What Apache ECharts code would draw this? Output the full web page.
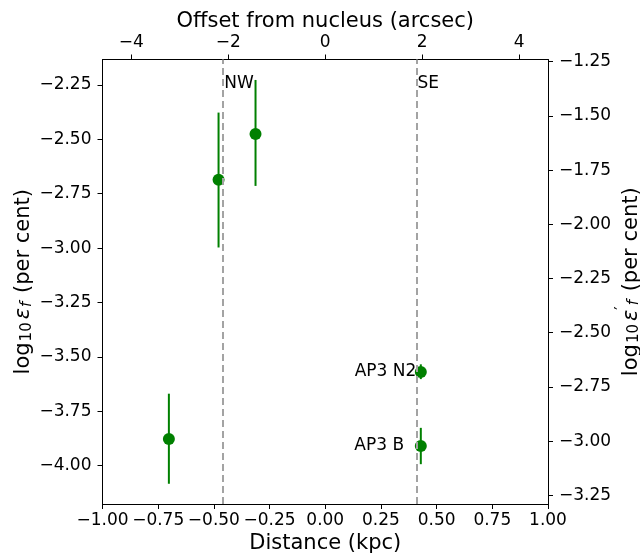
<!DOCTYPE html>
<html><head><meta charset="utf-8">
<script src="https://cdn.jsdelivr.net/npm/echarts@6/dist/echarts.min.js"></script>
<style>html,body{margin:0;background:#fff}#c{width:640px;height:554px}</style>
</head><body><div id="c"></div>
<script>
// Data
const distanceKpc = [-0.479, -0.313, -0.702, 0.429, 0.429];
const logEps      = [-2.686, -2.475, -3.877, -3.569, -3.909];
const errLower    = [-2.997, -2.714, -4.083, -3.602, -3.993];
const errUpper    = [-2.377, -2.227, -3.669, -3.534, -3.826];
const regionLineX = [-0.458, 0.410];
const regionNames = ['NW', 'SE'];
const regionLabelY = [-2.245, -2.245];
const pointNames  = ['AP3 N2', 'AP3 B'];
const pointLabelX = [0.409, 0.354];
const pointLabelY = [-3.569, -3.909];
const bottomTicks = [-1.00, -0.75, -0.50, -0.25, 0.00, 0.25, 0.50, 0.75, 1.00];
const topTicks    = [-4, -2, 0, 2, 4];
const leftTicks   = [-4.00, -3.75, -3.50, -3.25, -3.00, -2.75, -2.50, -2.25];
const rightTicks  = [-3.25, -3.00, -2.75, -2.50, -2.25, -2.00, -1.75, -1.50, -1.25];

const F = 'DejaVu Sans';
const minus = s => s.replace('-', '\u2212');
const fmt2 = v => minus(Number(v).toFixed(2));
const fmt0 = v => minus(String(Math.round(v)));
const tickFont = {fontFamily: F, fontSize: 17, color: '#000'};
const axisLine = {show: true, onZero: false, lineStyle: {color: '#000', width: 1}};
const tick = vals => ({show: true, inside: false, length: 5, lineStyle: {color: '#000', width: 1}, customValues: vals});
const nameRich = {
  n: {fontFamily: F, fontSize: 21, color: '#000', verticalAlign: 'bottom', lineHeight: 27},
  e: {fontFamily: F, fontSize: 21, color: '#000', fontStyle: 'italic', verticalAlign: 'bottom', lineHeight: 27, padding: [0, 0, 0, 2]},
  s: {fontFamily: F, fontSize: 15, color: '#000', verticalAlign: 'bottom', lineHeight: 12, padding: [0, 1, 0, 1]},
  si: {fontFamily: F, fontSize: 15, color: '#000', fontStyle: 'italic', verticalAlign: 'bottom', lineHeight: 12, padding: [0, 2, 0, 1]},
  p: {fontFamily: F, fontSize: 15, color: '#000', verticalAlign: 'top', lineHeight: 14}
};

const chart = echarts.init(document.getElementById('c'), null, {renderer: 'canvas'});
chart.setOption({
  animation: false,
  backgroundColor: '#fff',
  grid: {left: 102.5, right: 92, top: 59.5, bottom: 50, containLabel: false, outerBoundsMode: 'none'},
  xAxis: [
    {type: 'value', position: 'bottom', min: -1, max: 1,
     name: 'Distance (kpc)', nameLocation: 'middle', nameGap: 29, nameMoveOverlap: false,
     nameTextStyle: {fontFamily: F, fontSize: 21, color: '#000'},
     axisLine, axisTick: tick(bottomTicks), splitLine: {show: false},
     axisLabel: Object.assign({customValues: bottomTicks, formatter: fmt2, margin: 8}, tickFont)},
    {type: 'value', position: 'top', min: -4.595, max: 4.595,
     name: 'Offset from nucleus (arcsec)', nameLocation: 'middle', nameGap: 27, nameMoveOverlap: false,
     nameTextStyle: {fontFamily: F, fontSize: 21, color: '#000'},
     axisLine, axisTick: tick(topTicks), splitLine: {show: false},
     axisLabel: Object.assign({customValues: topTicks, formatter: fmt0, margin: 8}, tickFont)}
  ],
  yAxis: [
    {type: 'value', position: 'left', min: -4.176, max: -2.133,
     name: '{n|log}{s|10}{e|ε}{si|f}{n| (per cent)}', nameLocation: 'middle', nameGap: 68, nameRotate: 90, nameMoveOverlap: false,
     nameTextStyle: {fontFamily: F, fontSize: 21, color: '#000', rich: nameRich},
     axisLine, axisTick: tick(leftTicks), splitLine: {show: false},
     axisLabel: Object.assign({customValues: leftTicks, formatter: fmt2, margin: 11}, tickFont)},
    {type: 'value', position: 'right', min: -3.290, max: -1.240,
     name: '{n|log}{s|10}{e|ε}{p|′}{si|f}{n| (per cent)}', nameLocation: 'middle', nameGap: 67, nameRotate: 90, nameMoveOverlap: false,
     nameTextStyle: {fontFamily: F, fontSize: 21, color: '#000', rich: nameRich},
     axisLine, axisTick: tick(rightTicks), splitLine: {show: false},
     axisLabel: Object.assign({customValues: rightTicks, formatter: fmt2, margin: 11}, tickFont)}
  ],
  series: [
    {type: 'custom', xAxisIndex: 0, yAxisIndex: 0, z: 2,
     data: distanceKpc.map((x, i) => [x, errLower[i], errUpper[i]]),
     renderItem: (params, api) => {
       const a = api.coord([api.value(0), api.value(1)]);
       const b = api.coord([api.value(0), api.value(2)]);
       return {type: 'line', shape: {x1: a[0], y1: a[1], x2: b[0], y2: b[1]},
               style: {stroke: '#008000', lineWidth: 2}};
     }},
    {type: 'scatter', xAxisIndex: 0, yAxisIndex: 0, z: 3,
     symbol: 'circle', symbolSize: 12, itemStyle: {color: '#008000', opacity: 1},
     data: distanceKpc.map((x, i) => [x, logEps[i]]),
     markLine: {silent: true, symbol: ['none', 'none'], label: {show: false},
       lineStyle: {color: '#a3a3a3', type: [7, 4], width: 2, opacity: 1},
       data: regionLineX.map(x => ({xAxis: x}))}},
    {type: 'scatter', xAxisIndex: 0, yAxisIndex: 0, z: 4, symbolSize: 0,
     data: regionNames.map((n, i) => ({value: [regionLineX[i], regionLabelY[i]], name: n})),
     label: {show: true, position: 'right', distance: 1, formatter: p => p.name,
             fontFamily: F, fontSize: 17, color: '#000', opacity: 1}},
    {type: 'scatter', xAxisIndex: 0, yAxisIndex: 0, z: 4, symbolSize: 0,
     data: pointNames.map((n, i) => ({value: [pointLabelX[i], pointLabelY[i]], name: n})),
     label: {show: true, position: 'left', distance: 0, formatter: p => p.name,
             fontFamily: F, fontSize: 17, color: '#000', opacity: 1}}
  ]
});
</script></body></html>
